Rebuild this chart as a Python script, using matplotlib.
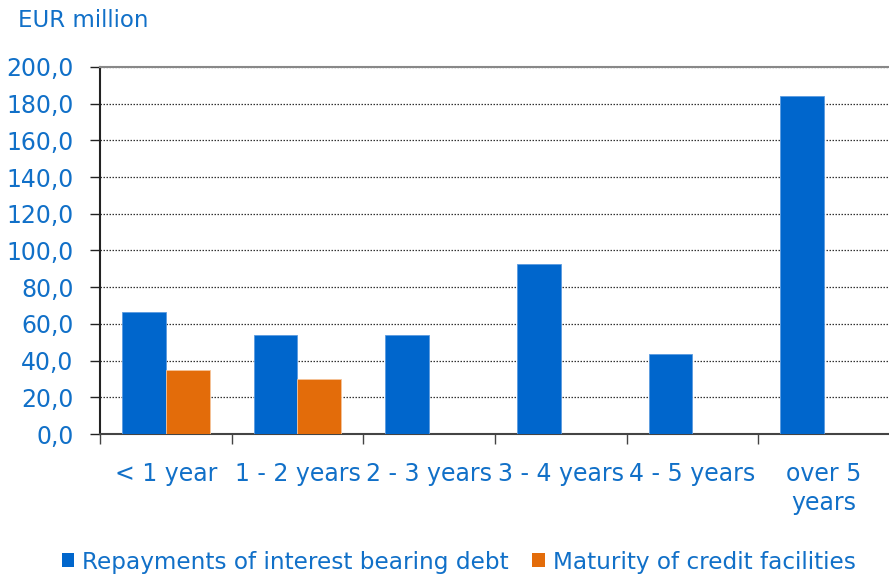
import matplotlib
matplotlib.use("Agg")
import matplotlib.pyplot as plt
import numpy as np
from matplotlib.patches import Patch

categories = ["< 1 year", "1 - 2 years", "2 - 3 years", "3 - 4 years", "4 - 5 years", "over 5\nyears"]
repayments = [66.5, 54.0, 54.0, 92.6, 43.4, 184.2]
credit = [35.0, 30.0, None, None, None, None]
yticks = [0, 20, 40, 60, 80, 100, 120, 140, 160, 180, 200]
ylabels = ["0,0", "20,0", "40,0", "60,0", "80,0", "100,0", "120,0", "140,0", "160,0", "180,0", "200,0"]

BLUE = "#0066CC"
ORANGE = "#E36C0A"
TXT = "#1170C8"

plt.rcParams['font.family'] = ['DejaVu Sans']
fig = plt.figure(figsize=(8.89, 5.8), dpi=100)
ax = fig.add_axes([0.1125, 0.2517, 0.8885, 0.633])

x = np.arange(len(categories))
w = 1/3
ax.bar(x - w/2, repayments, width=w, color=BLUE, edgecolor="#5B9BE0", linewidth=0.6, zorder=3)
cx = [xi + w/2 for xi, v in zip(x, credit) if v is not None]
cv = [v for v in credit if v is not None]
ax.bar(cx, cv, width=w, color=ORANGE, edgecolor="#F5C49A", linewidth=0.6, zorder=3)

ax.set_xlim(-0.5, len(categories) - 0.5)
ax.set_ylim(0, 200)
ax.set_yticks(yticks)
ax.set_yticklabels(ylabels)
ax.yaxis.grid(True, linestyle=(0, (1.2, 1.2)), color="#333333", linewidth=0.9, zorder=0)
ax.tick_params(axis='y', length=7, width=1, direction='out', pad=12, labelsize=17, labelcolor=TXT, color="#222222")

ax.set_xticks(x)
ax.set_xticklabels(categories)
ax.tick_params(axis='x', length=0, pad=20, labelsize=17, labelcolor=TXT)
ax.set_xticks(np.arange(len(categories)) - 0.5, minor=True)
ax.tick_params(axis='x', which='minor', length=7, width=1, direction='out', color="#444444")
for lab in ax.get_xticklabels():
    lab.set_verticalalignment('top')
    lab.set_linespacing(1.25)

ax.spines['left'].set_color("#222222")
ax.spines['left'].set_linewidth(1.5)
ax.spines['bottom'].set_color("#444444")
ax.spines['bottom'].set_linewidth(1.5)
ax.spines['top'].set_color("#888888")
ax.spines['top'].set_linewidth(1.5)
ax.spines['right'].set_visible(False)

fig.text(0.02, 0.965, "EUR million", color=TXT, fontsize=16.5, va='center', ha='left')

handles = [Patch(facecolor=BLUE, edgecolor='none'), Patch(facecolor=ORANGE, edgecolor='none')]
fig.legend(handles, ["Repayments of interest bearing debt", "Maturity of credit facilities"],
           loc='center', bbox_to_anchor=(0.516, 0.031), ncol=2, frameon=False,
           fontsize=16.7, labelcolor=TXT, handlelength=0.55, handleheight=0.55,
           handletextpad=0.35, columnspacing=1.0)

fig.savefig("out.png", dpi=100)
